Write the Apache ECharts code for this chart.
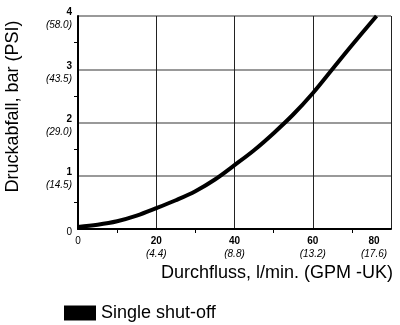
<!DOCTYPE html>
<html>
<head>
<meta charset="utf-8">
<script src="https://cdn.jsdelivr.net/npm/echarts@6/dist/echarts.min.js"></script>
<style>
  html, body { margin: 0; padding: 0; background: #fff; }
  #chart { width: 400px; height: 325px; }
</style>
</head>
<body>
<div id="chart"></div>
<script>
  // Durchfluss l/min -> Druckabfall bar
  const flow = [0, 5, 10, 15, 20, 25, 30, 35, 40, 45, 50, 55, 60, 65, 70, 76.3];
  const drop = [0.04, 0.08, 0.145, 0.25, 0.39, 0.54, 0.71, 0.93, 1.2, 1.48, 1.8, 2.15, 2.55, 3.0, 3.45, 4.0];

  // tick labels, second line in GPM / PSI
  const xTicks = [0, 20, 40, 60, 80];
  const xGpm = ['', '4.4', '8.8', '13.2', '17.6'];
  const yTicks = [0, 1, 2, 3, 4];
  const yPsi = ['', '14.5', '29.0', '43.5', '58.0'];

  const seriesName = 'Single shut-off';
  const font = "'Liberation Sans', Arial, sans-serif";

  const lbl = {
    n: { fontSize: 10, fontFamily: font, color: '#000', lineHeight: 13 },
    b: { fontSize: 10, fontWeight: 'bold', fontFamily: font, color: '#000', lineHeight: 13 },
    i: { fontSize: 10, fontStyle: 'italic', fontFamily: font, color: '#000', lineHeight: 13 },
    bl: { fontSize: 10, fontWeight: 'bold', fontFamily: font, color: '#000', lineHeight: 13, padding: [0, 34, 0, 0] },
    il: { fontSize: 10, fontStyle: 'italic', fontFamily: font, color: '#000', lineHeight: 13, padding: [0, 34, 0, 0] }
  };

  const chart = echarts.init(document.getElementById('chart'));
  chart.setOption({
    animation: false,
    grid: { left: 78, right: 9, top: 16, bottom: 96, outerBoundsMode: 'none' },
    legend: {
      data: [seriesName],
      left: 59, top: 299,
      icon: 'rect', itemWidth: 32, itemHeight: 15, itemGap: 10,
      textStyle: { fontSize: 18, fontFamily: font, color: '#000' }
    },
    xAxis: {
      type: 'value', min: 0, max: 80, interval: 20,
      name: 'Durchfluss, l/min. (GPM -UK)',
      nameLocation: 'middle', nameGap: 27,
      nameTextStyle: { fontSize: 18, fontFamily: font, color: '#000', verticalAlign: 'top', lineHeight: 18, padding: [0, 0, 0, 85] },
      axisLine: { lineStyle: { color: '#000', width: 2 } },
      axisTick: { show: false },
      minorTick: { show: true, splitNumber: 2, length: 4, lineStyle: { color: '#000', width: 1 } },
      splitLine: { show: true, lineStyle: { color: '#222', width: 1 } },
      axisLabel: {
        margin: 6, verticalAlign: 'top', showMaxLabel: true,
        formatter: function (v) {
          const k = xTicks.indexOf(v);
          if (k <= 0) return '{n|' + v + '}';
          if (k === xTicks.length - 1) return '{bl|' + v + '}\n{il|(' + xGpm[k] + ')}';
          return '{b|' + v + '}\n{i|(' + xGpm[k] + ')}';
        },
        rich: lbl
      }
    },
    yAxis: {
      type: 'value', min: 0, max: 4, interval: 1,
      name: 'Druckabfall, bar (PSI)',
      nameLocation: 'middle', nameGap: 56,
      nameTextStyle: { fontSize: 18, fontFamily: font, color: '#000', padding: [0, 0, 0, 32] },
      axisLine: { show: true, lineStyle: { color: '#000', width: 2 } },
      axisTick: { show: false },
      minorTick: { show: true, splitNumber: 2, length: 4, lineStyle: { color: '#000', width: 1 } },
      splitLine: { show: true, lineStyle: { color: '#777', width: 1.5 } },
      axisLabel: {
        margin: 6, padding: [6, 0, 0, 0],
        formatter: function (v) {
          const k = yTicks.indexOf(v);
          if (k <= 0) return '{n|' + v + '}';
          return '{b|' + v + '}\n{i|(' + yPsi[k] + ')}';
        },
        rich: lbl
      }
    },
    series: [{
      name: seriesName,
      type: 'line',
      data: flow.map((f, k) => [f, drop[k]]),
      smooth: 0.35,
      symbol: 'none',
      lineStyle: { color: '#000', width: 4 },
      itemStyle: { color: '#000' }
    }]
  });
</script>
</body>
</html>
